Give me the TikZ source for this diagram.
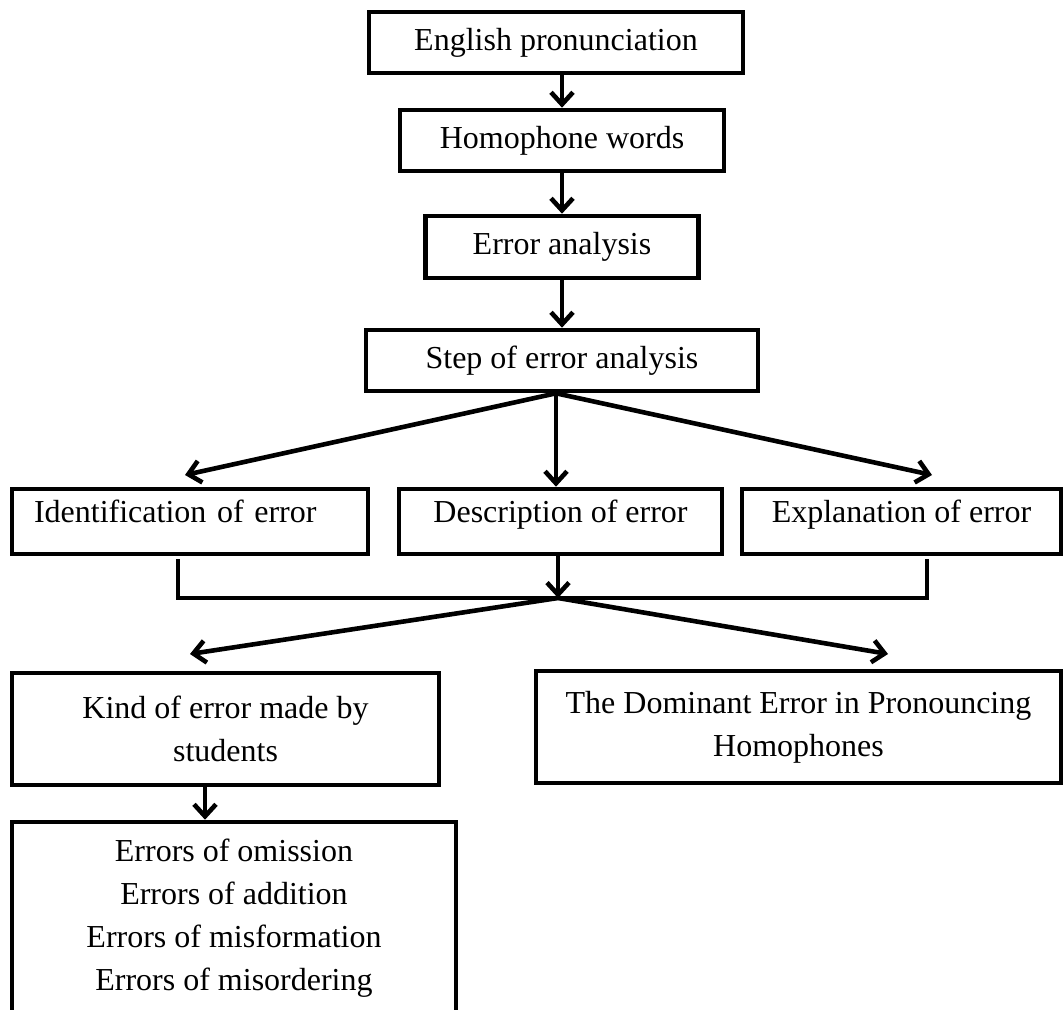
\documentclass[tikz,border=0pt]{standalone}
\usepackage{fontspec}
\setmainfont{Liberation Serif}
\usepackage{tikz}
\usetikzlibrary{arrows.meta}
\usetikzlibrary{shadows}
\def\colx{562}

\tikzset{
  box/.style={draw, line width=2.3pt, fill=white, align=center, inner sep=0pt,
    drop shadow={opacity=0.18, shadow xshift=1.2pt, shadow yshift=-1.2pt}},
  stepbox/.style={box, text height=11pt, text depth=10pt, minimum height=32.5pt},
  arr/.style={line width=2.3pt, -{Straight Barb[length=6pt,width=11pt]}},
  link/.style={line width=2.3pt},
}

\begin{document}
\begin{tikzpicture}[x=0.5pt, y=-0.5pt, font=\fontsize{16}{21.5}\selectfont]
		\useasboundingbox (0,0) rectangle (1064,1010);
		\clip (0,0) rectangle (1064,1010);
		% main column
		\node[box, minimum width=187pt, minimum height=30.5pt] (eng) at (\colx-6,42.5) {English pronunciation};
		\node[box, minimum width=162pt, minimum height=30.5pt] (homo) at (\colx,140.5) {Homophone words};
		\node[box, minimum width=136.5pt, minimum height=31pt] (ea) at (\colx,247) {Error analysis};
		\node[box, minimum width=196pt, minimum height=30.5pt] (step) at (\colx,360.5) {Step of error analysis};
		% the three steps
		\node[stepbox, text width=156pt, inner xsep=11pt, align=left] (ident) at (190,521.5) {Identification of error};
		\node[stepbox, minimum width=161.5pt] (desc) at (560.5,521.5) {Description of error};
		\node[stepbox, minimum width=159.5pt] (expl) at (901.5,521.5) {Explanation of error};
		% results
		\node[box, minimum width=213.5pt, minimum height=56pt] (kind) at (225.5,729) {Kind of error made by\\students};
		\node[box, minimum width=262.5pt, minimum height=56pt] (dom) at (798.5,727) {The Dominant Error in Pronouncing\\Homophones};
		\node[box, minimum width=222pt, minimum height=97pt, text depth=4pt] (errs) at (234,919) {Errors of omission\\Errors of addition\\Errors of misformation\\Errors of misordering};

		\coordinate (fork) at ([xshift=-3pt]step.south);
		\coordinate (tipL) at (185,475);
		\coordinate (tipR) at (932,475);
		\coordinate (jL) at (178,559);
		\coordinate (jR) at (927,559);
		\coordinate (hub) at (558,598);
		\coordinate (tipK) at (190,654);
		\coordinate (tipD) at (888,654);
		\coordinate (kx) at (205,0);

		\draw[arr] (homo.north |- eng.south) -- (homo.north);
		\draw[arr] (homo) -- (ea);
		\draw[arr] (ea) -- (step);
		\draw[arr] (fork) -- (tipL);
		\draw[arr] (fork) -- (fork |- desc.north);
		\draw[arr] (fork) -- (tipR);
		\draw[link] (jL) |- (hub) -| (jR);
		\draw[arr] (desc.south -| hub) -- (hub);
		\draw[arr] (hub) -- (tipK);
		\draw[arr] (hub) -- (tipD);
		\draw[arr] (kind.south -| kx) -- (errs.north -| kx);
	\end{tikzpicture}
\end{document}
